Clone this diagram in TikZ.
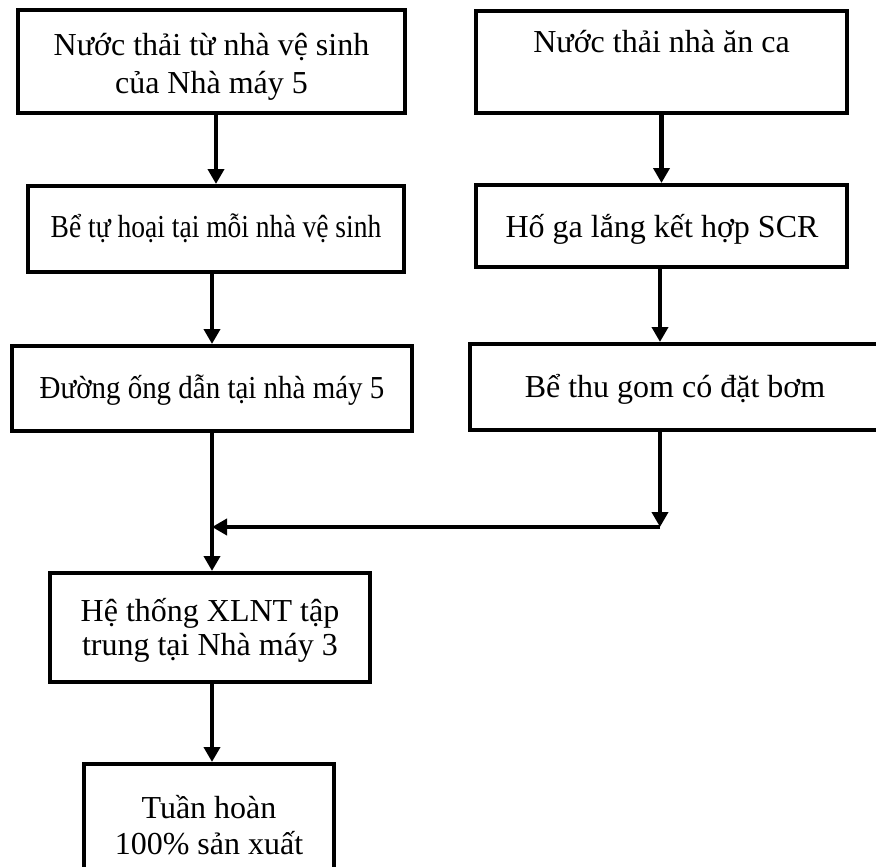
\documentclass[tikz,border=0pt]{standalone}
\usepackage{fontspec}
\usepackage{graphicx}
\setmainfont{Liberation Serif}
\usetikzlibrary{arrows.meta}
\begin{document}
\begin{tikzpicture}[x=1pt,y=-1pt,
  box/.style={draw=black,line width=4.4pt,rectangle,inner sep=0pt,fill=white},
  lbl/.style={anchor=base,align=center,inner sep=0pt,
    font=\fontsize{32}{36}\selectfont},
  flow/.style={draw=black,line width=4.2pt,
    -{Triangle[width=16pt,length=15pt]}}]
\clip (0,0) rectangle (876,867);
\fill[white] (0,0) rectangle (876,867);

% process boxes
\node[box,minimum width=386.6pt,minimum height=102.6pt] (b1) at (211.5,61.5) {};
\node[box,minimum width=370.6pt,minimum height=101.6pt] (b2) at (661.5,62) {};
\node[box,minimum width=375.6pt,minimum height=85.6pt]  (b3) at (216,229) {};
\node[box,minimum width=370.6pt,minimum height=81.6pt]  (b4) at (661.5,226) {};
\node[box,minimum width=399.6pt,minimum height=84.6pt]  (b5) at (212,388.5) {};
\node[box,minimum width=409.6pt,minimum height=85.6pt]  (b6) at (675,387) {};
\node[box,minimum width=319.6pt,minimum height=108.6pt] (b7) at (210,627.5) {};
\node[box,minimum width=249.6pt,minimum height=113.6pt] (b8) at (209,821) {};

% box texts (base anchor = baseline of the last line)
\node[lbl,font=\fontsize{32}{38}\selectfont] (t1) at (211.5,93) {Nước thải từ nhà vệ sinh\\của Nhà máy 5};
\node[lbl] (t2) at (661.5,53) {Nước thải nhà ăn ca};
\node[lbl] (t3) at (216,237) {\scalebox{0.86}[1]{Bể tự hoại tại mỗi nhà vệ sinh}};
\node[lbl] (t4) at (662,237) {Hố ga lắng kết hợp SCR};
\node[lbl] (t5) at (212,398) {\scalebox{0.905}[1]{Đường ống dẫn tại nhà máy 5}};
\node[lbl] (t6) at (675,397) {Bể thu gom có đặt bơm};
\node[lbl,font=\fontsize{32}{34}\selectfont] (t7) at (210,655) {Hệ thống XLNT tập\\trung tại Nhà máy 3};
\node[lbl] (t8) at (209,854) {Tuần hoàn\\100\% sản xuất};

% junction of the two branches
\coordinate (k) at (660,527);
\coordinate (j) at (212,527);

% connectors
\draw[flow] (b3.north |- b1.south) -- (b3.north);
\draw[flow] (b2.south) -- (b4.north);
\draw[flow] (b5.north |- b3.south) -- (b5.north);
\draw[flow] (k |- b4.south) -- (k |- b6.north);
\draw[flow] (k |- b6.south) -- (k);
\draw[flow] (k) -- (j);
\draw[flow] (b5.south) -- (b5.south |- b7.north);
\draw[flow] (b5.south |- b7.south) -- (b5.south |- b8.north);
\end{tikzpicture}
\end{document}
